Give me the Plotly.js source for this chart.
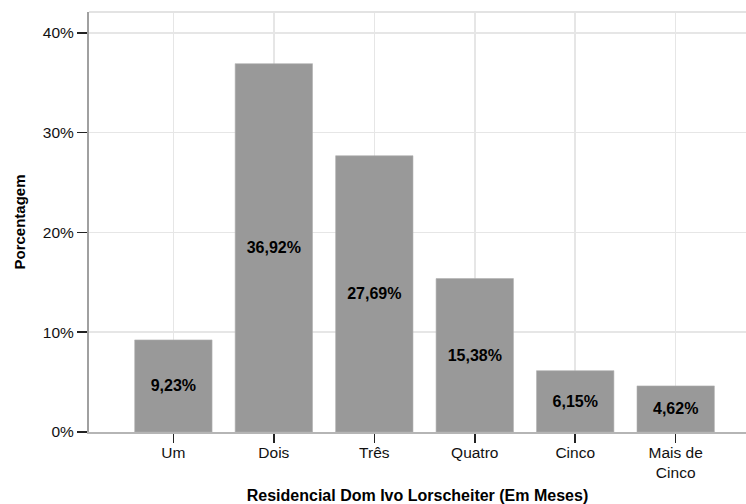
<!DOCTYPE html>
<html>
<head>
<meta charset="utf-8">
<script src="https://cdn.plot.ly/plotly-3.0.1.min.js"></script>
<style>
  html, body { margin: 0; padding: 0; background: #fff; }
  #chart { width: 746px; height: 504px; }
</style>
</head>
<body>
<div id="chart"></div>
<script>
// Tempo de residência no Residencial Dom Ivo Lorscheiter
var categories = ['Um', 'Dois', 'Três', 'Quatro', 'Cinco', 'Mais de<br>Cinco'];
var percentages = [9.23, 36.92, 27.69, 15.38, 6.15, 4.62];
var yTickValues = [0, 10, 20, 30, 40];
var yTickLabels = ['0%', '10%', '20%', '30%', '40%'];

var barLabels = percentages.map(function (v) {
  return v.toFixed(2).replace('.', ',') + '%';
});

var positions = categories.map(function (_, i) { return i; });

var trace = {
  type: 'bar',
  x: positions,
  y: percentages,
  width: 0.77,
  marker: { color: '#999999', line: { color: '#b0b0b0', width: 0.6 } },
  text: barLabels,
  textposition: 'inside',
  insidetextanchor: 'middle',
  textangle: 0,
  textfont: { family: 'Liberation Sans, Arial, sans-serif', size: 16, color: '#000', weight: 'bold' },
  hoverinfo: 'skip',
  cliponaxis: false
};

var layout = {
  width: 746,
  height: 504,
  margin: { l: 89, r: 0, t: 12, b: 72, pad: 0 },
  paper_bgcolor: '#fff',
  plot_bgcolor: '#fff',
  showlegend: false,
  font: { family: 'Liberation Sans, Arial, sans-serif', size: 15, color: '#000' },
  xaxis: {
    range: [-0.84, 5.70],
    tickvals: positions,
    ticktext: categories,
    ticks: 'outside',
    ticklen: 9,
    tickwidth: 1.5,
    tickcolor: '#222',
    ticklabelstandoff: -3,
    showgrid: true,
    gridcolor: '#e6e6e6',
    gridwidth: 1.5,
    showline: true,
    linecolor: '#b5b5b5',
    linewidth: 1.5,
    zeroline: false,
    tickfont: { size: 15.5, color: '#111' },
    title: {
      text: 'Residencial Dom Ivo Lorscheiter (Em Meses)',
      font: { size: 16, weight: 'bold', color: '#000' },
      standoff: 14
    },
    fixedrange: true
  },
  yaxis: {
    range: [0, 42.1],
    tickvals: yTickValues,
    ticktext: yTickLabels,
    ticks: 'outside',
    ticklen: 10,
    tickwidth: 1.5,
    tickcolor: '#222',
    showgrid: true,
    gridcolor: '#e6e6e6',
    gridwidth: 1.5,
    showline: true,
    linecolor: '#a0a0a0',
    linewidth: 2,
    zeroline: false,
    tickfont: { size: 15.5, color: '#111' },
    title: {
      text: 'Porcentagem',
      font: { size: 15, weight: 'bold', color: '#000' },
      standoff: 14
    },
    fixedrange: true
  },
  shapes: [
    {
      type: 'line', xref: 'paper', yref: 'paper',
      x0: 0, x1: 1, y0: 1, y1: 1,
      line: { color: '#e3e3e3', width: 2 }
    }
  ]
};

Plotly.newPlot('chart', [trace], layout, { staticPlot: true, displayModeBar: false });
</script>
</body>
</html>
